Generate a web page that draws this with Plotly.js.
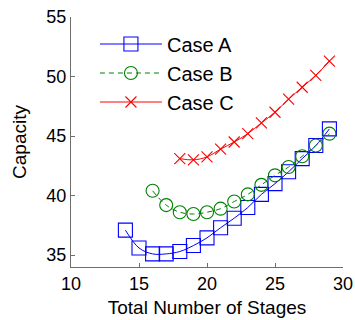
<!DOCTYPE html>
<html>
<head>
<meta charset="utf-8">
<script src="https://cdn.plot.ly/plotly-3.0.1.min.js"></script>
<style>html,body{margin:0;padding:0;background:#fff;}#chart{width:355px;height:320px;}</style>
</head>
<body>
<div id="chart"></div>
<script>
var stagesA = [14, 15, 16, 17, 18, 19, 20, 21, 22, 23, 24, 25, 26, 27, 28, 29];
var capacityA = [37.1, 35.6, 35.1, 35.1, 35.3, 35.8, 36.45, 37.3, 38.1, 39.0, 40.1, 41.0, 42.0, 43.1, 44.2, 45.6];
var stagesB = [16, 17, 18, 19, 20, 21, 22, 23, 24, 25, 26, 27, 28, 29];
var capacityB = [40.4, 39.2, 38.6, 38.45, 38.6, 38.9, 39.5, 40.1, 40.9, 41.7, 42.4, 43.3, 44.2, 45.2];
var stagesC = [18, 19, 20, 21, 22, 23, 24, 25, 26, 27, 28, 29];
var capacityC = [43.1, 43.0, 43.25, 43.9, 44.5, 45.2, 46.1, 47.0, 48.1, 49.1, 50.1, 51.3];
var seriesNames = ['Case A', 'Case B', 'Case C'];
var xTicks = [10, 15, 20, 25, 30];
var yTicks = [35, 40, 45, 50, 55];

var font = 'Liberation Sans, Arial, sans-serif';
var traces = [
  {x: stagesA, y: capacityA, name: seriesNames[0], type: 'scatter', mode: 'lines+markers',
   line: {color: '#0000ff', width: 1, shape: 'spline'},
   marker: {symbol: 'square-open', size: 14, color: '#0000ff', line: {width: 1.1, color: '#0000ff'}}},
  {x: stagesB, y: capacityB, name: seriesNames[1], type: 'scatter', mode: 'lines+markers',
   line: {color: '#008000', width: 1, dash: '5px,4px', shape: 'spline'},
   marker: {symbol: 'circle-open', size: 13, color: '#008000', line: {width: 1.1, color: '#008000'}}},
  {x: stagesC, y: capacityC, name: seriesNames[2], type: 'scatter', mode: 'lines+markers',
   line: {color: '#ff0000', width: 1, shape: 'spline'},
   marker: {symbol: 'x-thin-open', size: 11, color: '#ff0000', line: {width: 1.1, color: '#ff0000'}}}
];

var layout = {
  width: 355, height: 320,
  margin: {l: 71, r: 12, t: 17, b: 53},
  paper_bgcolor: '#fff', plot_bgcolor: '#fff',
  font: {family: font, color: '#000', size: 18},
  showlegend: true,
  legend: {x: 0.088, y: 0.97, xanchor: 'left', yanchor: 'top', bgcolor: 'rgba(0,0,0,0)',
           font: {family: font, size: 20, color: '#000'}, itemwidth: 62, tracegroupgap: 0},
  xaxis: {range: [10, 30], tickvals: xTicks, ticktext: xTicks.map(String),
          showgrid: false, zeroline: false, showline: true, linecolor: '#6e6e6e', linewidth: 1,
          ticks: 'inside', ticklen: 4, tickcolor: '#6e6e6e', tickfont: {size: 18, family: font},
          title: {text: 'Total Number of Stages', font: {size: 19, family: font}, standoff: 8}},
  yaxis: {range: [34, 55], tickvals: yTicks, ticktext: yTicks.map(String),
          showgrid: false, zeroline: false, showline: true, linecolor: '#6e6e6e', linewidth: 1,
          ticks: 'inside', ticklen: 4, tickcolor: '#6e6e6e', tickfont: {size: 18, family: font},
          title: {text: 'Capacity', font: {size: 19, family: font}, standoff: 14}}
};

Plotly.newPlot('chart', traces, layout, {displayModeBar: false, staticPlot: true});
</script>
</body>
</html>
